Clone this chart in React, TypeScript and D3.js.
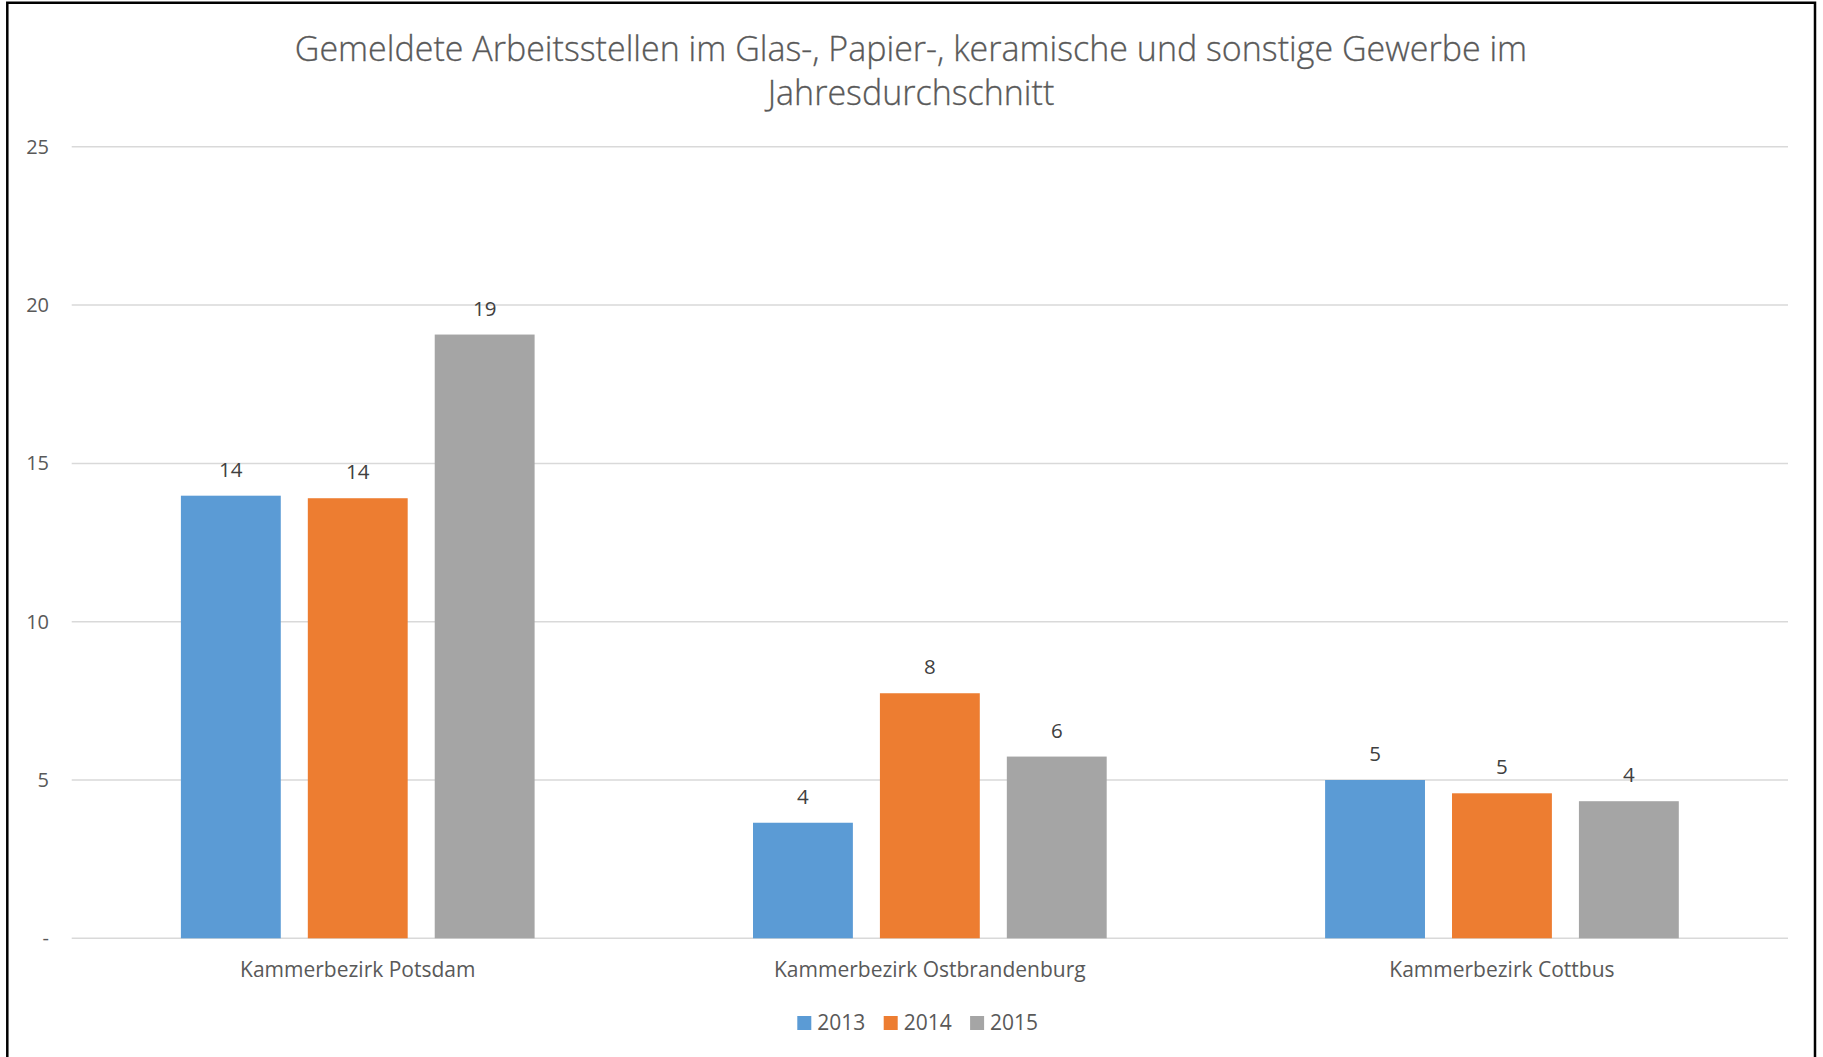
import React from "react";
import * as d3 from "d3";

const categories = ["Kammerbezirk Potsdam", "Kammerbezirk Ostbrandenburg", "Kammerbezirk Cottbus"];
const seriesNames = ["2013", "2014", "2015"];
const values2013 = [13.98, 3.65, 5.0];
const values2014 = [13.9, 7.74, 4.58];
const values2015 = [19.07, 5.74, 4.33];
const yTicks = [0, 5, 10, 15, 20, 25];
const titleLines = [
  "Gemeldete Arbeitsstellen im Glas-, Papier-, keramische und sonstige Gewerbe im",
  "Jahresdurchschnitt",
];
const colors = ["#5B9BD5", "#ED7D31", "#A5A5A5"];

const W = 1823;
const H = 1057;
const plot = { left: 71.7, right: 1788, top: 146.8, bottom: 938.3 };
const FONT = "'Open Sans', 'Liberation Sans', sans-serif";

export default function App() {
  const seriesValues = [values2013, values2014, values2015];
  const x0 = d3.scaleBand<string>().domain(categories).range([plot.left, plot.right]).padding(0);
  const groupPad = (x0.bandwidth() - 353.7) / 2;
  const x1 = d3
    .scaleBand<string>()
    .domain(seriesNames)
    .range([groupPad, x0.bandwidth() - groupPad])
    .paddingInner(0.213)
    .paddingOuter(0);
  const y = d3.scaleLinear().domain([0, 25]).range([plot.bottom, plot.top]);
  const fmt = (v: number) => (v === 0 ? "-" : d3.format("d")(v));

  return (
    <div style={{ position: "absolute", left: 0, top: 0 }}>
      <svg width={W} height={H} style={{ display: "block", background: "#fff" }}>
        <rect x={0} y={0} width={W} height={H} fill="#fff" />
        {/* title */}
        {titleLines.map((t, i) => (
          <text
            key={i}
            x={911}
            y={60.5 + i * 44.5}
            textAnchor="middle"
            fontFamily={FONT}
            fontWeight={300}
            fontSize={34}
            fill="#595959"
            stroke="#595959"
            strokeWidth={0.3}
          >
            {t}
          </text>
        ))}
        {/* gridlines */}
        {yTicks.map((t) => (
          <g key={t}>
            <line x1={plot.left} x2={plot.right} y1={y(t)} y2={y(t)} stroke="#d9d9d9" strokeWidth={1.5} />
            <text
              x={49}
              y={y(t)}
              dy="0.35em"
              textAnchor="end"
              fontFamily={FONT}
              fontSize={20}
              fill="#595959"
            >
              {fmt(t)}
            </text>
          </g>
        ))}
        {/* bars */}
        {categories.map((c, ci) => (
          <g key={c} transform={`translate(${x0(c)},0)`}>
            {seriesNames.map((s, si) => {
              const v = seriesValues[si][ci];
              const bx = x1(s) as number;
              return (
                <g key={s}>
                  <rect
                    x={bx}
                    y={y(v)}
                    width={x1.bandwidth()}
                    height={y(0) - y(v)}
                    fill={colors[si]}
                  />
                  <text
                    x={bx + x1.bandwidth() / 2}
                    y={y(v) - 19}
                    textAnchor="middle"
                    fontFamily={FONT}
                    fontSize={20.5}
                    fill="#404040"
                  >
                    {Math.round(v)}
                  </text>
                </g>
              );
            })}
            <text
              x={x0.bandwidth() / 2}
              y={976.7}
              textAnchor="middle"
              fontFamily={FONT}
              fontSize={21}
              fill="#595959"
            >
              {c}
            </text>
          </g>
        ))}
        {/* legend */}
        {seriesNames.map((s, i) => (
          <g key={s} transform={`translate(${797.3 + i * 86.4},0)`}>
            <rect x={0} y={1016} width={14} height={14} fill={colors[i]} />
            <text x={20} y={1030} fontFamily={FONT} fontSize={21} fill="#595959">
              {s}
            </text>
          </g>
        ))}
        {/* border */}
        <path d={`M7.3,${H} V2.7 H1815 V${H}`} fill="none" stroke="#000" strokeWidth={2.5} />
      </svg>
    </div>
  );
}
